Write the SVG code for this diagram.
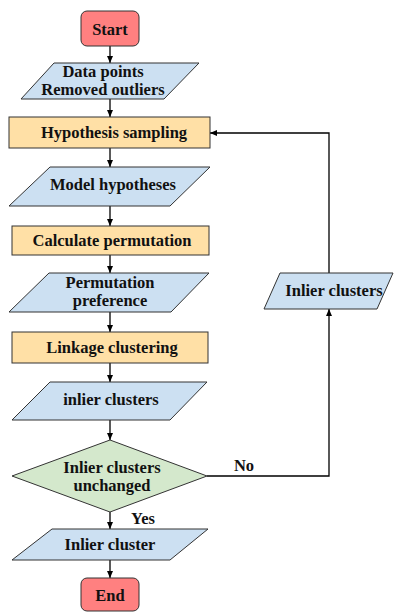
<svg xmlns="http://www.w3.org/2000/svg" width="394" height="612" viewBox="0 0 394 612" font-family="'Liberation Serif', 'DejaVu Serif', serif">
<defs>
<marker id="arr" markerWidth="8" markerHeight="8" refX="7" refY="4" orient="auto" markerUnits="userSpaceOnUse">
<path d="M0,1 L7,4 L0,7 Z" fill="#000"/>
</marker>
<style>
.t{font-weight:bold;font-size:16.5px;fill:#111;text-anchor:middle}
.term{fill:#FF8080;stroke:#333;stroke-width:1}
.io{fill:#CCE0F2;stroke:#333;stroke-width:1}
.proc{fill:#FFE0A6;stroke:#333;stroke-width:1}
.dec{fill:#D4E8CC;stroke:#333;stroke-width:1}
.c{fill:none;stroke:#000;stroke-width:1.3;marker-end:url(#arr)}
</style>
</defs>
<rect width="394" height="612" fill="#fff"/>
<g id="connectors">
<line class="c" x1="110" y1="46" x2="110" y2="63"/>
<line class="c" x1="110" y1="99" x2="110" y2="117"/>
<line class="c" x1="110" y1="148" x2="110" y2="167"/>
<line class="c" x1="110" y1="206" x2="110" y2="226"/>
<line class="c" x1="110" y1="255" x2="110" y2="273"/>
<line class="c" x1="110" y1="312" x2="110" y2="332"/>
<line class="c" x1="110" y1="363" x2="110" y2="382"/>
<line class="c" x1="110" y1="420" x2="110" y2="440"/>
<line class="c" x1="110" y1="512" x2="110" y2="529"/>
<line class="c" x1="110" y1="560" x2="110" y2="578"/>
<polyline class="c" points="207,476 329,476 329,309"/>
<polyline class="c" points="329,273 329,133 210,133"/>
<text class="t" x="244" y="471">No</text>
<text class="t" x="143" y="524">Yes</text>
</g>
<g id="start">
<rect class="term" x="81" y="11" width="58" height="35" rx="6"/>
<text class="t" x="110" y="35">Start</text>
</g>
<g id="data">
<polygon class="io" points="54,63 199,63 164,99 21,99"/>
<text class="t" x="103" y="77">Data points</text>
<text class="t" x="103" y="95">Removed outliers</text>
</g>
<g id="hyp">
<rect class="proc" x="9" y="117" width="201" height="31"/>
<text class="t" x="114" y="138">Hypothesis sampling</text>
</g>
<g id="model">
<polygon class="io" points="50,167 210,167 170,206 9,206"/>
<text class="t" x="113" y="190">Model hypotheses</text>
</g>
<g id="calc">
<rect class="proc" x="12" y="226" width="197" height="29"/>
<text class="t" x="112" y="246">Calculate permutation</text>
</g>
<g id="perm">
<polygon class="io" points="49,273 209,273 171,312 9,312"/>
<text class="t" x="110" y="288">Permutation</text>
<text class="t" x="110" y="306">preference</text>
</g>
<g id="link">
<rect class="proc" x="12" y="332" width="196" height="31"/>
<text class="t" x="112" y="353">Linkage clustering</text>
</g>
<g id="inlier">
<polygon class="io" points="50,382 207,382 170,420 12,420"/>
<text class="t" x="111" y="405">inlier clusters</text>
</g>
<g id="decision">
<polygon class="dec" points="110,440 207,476 110,512 12,476"/>
<text class="t" x="112" y="473">Inlier clusters</text>
<text class="t" x="112" y="491">unchanged</text>
</g>
<g id="cluster">
<polygon class="io" points="52,529 208,529 170,560 12,560"/>
<text class="t" x="110" y="550">Inlier cluster</text>
</g>
<g id="end">
<rect class="term" x="81" y="578" width="58" height="33" rx="6"/>
<text class="t" x="110" y="601">End</text>
</g>
<g id="right">
<polygon class="io" points="280,273 393,273 377,309 264,309"/>
<text class="t" x="334" y="296">Inlier clusters</text>
</g>
</svg>
